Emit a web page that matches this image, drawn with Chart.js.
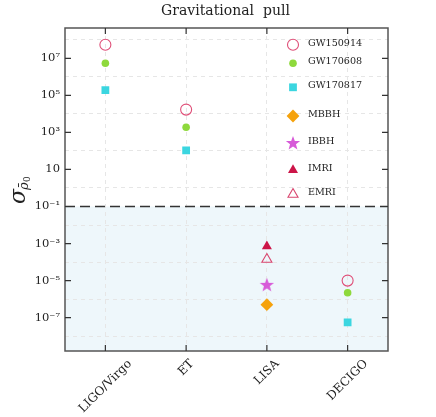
<!DOCTYPE html>
<html>
<head>
<meta charset="utf-8">
<script src="https://cdn.jsdelivr.net/npm/chart.js@4.4.0/dist/chart.umd.min.js"></script>
<style>
  body { margin: 0; background: #fff; }
  #wrap { width: 436px; height: 417px; position: relative; }
</style>
</head>
<body>
<div id="wrap"><canvas id="myChart"></canvas></div>
<script>
var detectors = ['LIGO/Virgo', 'ET', 'LISA', 'DECIGO'];
var gw150914 = [5.4e7, 1.7e4, null, 1.0e-5];
var gw170608 = [5.4e6, 1.9e3, null, 2.2e-6];
var gw170817 = [1.9e5, 1.07e2, null, 5.6e-8];
var mbbh = [null, null, 5.0e-7, null];
var ibbh = [null, null, 5.9e-6, null];
var imri = [null, null, 7.0e-4, null];
var emri = [null, null, 1.4e-4, null];
var threshold = 0.1;
var tickExps = [7, 5, 3, 1, -1, -3, -5, -7];
var supers = {'0':'⁰','1':'¹','2':'²','3':'³','4':'⁴','5':'⁵','6':'⁶','7':'⁷','8':'⁸','9':'⁹','-':'⁻'};

var serif = "'DejaVu Serif', serif";

// filled five point star for IBBH
var star = document.createElement('canvas');
star.width = 16; star.height = 16;
(function(){
    var c = star.getContext('2d');
    c.fillStyle = '#d75ad8';
    c.beginPath();
    for (var i = 0; i < 10; i++) {
        var r = (i % 2 == 0) ? 7.5 : 3.1;
        var a = -Math.PI/2 + i*Math.PI/5;
        var px = 8 + r*Math.cos(a), py = 8.4 + r*Math.sin(a);
        if (i == 0) c.moveTo(px, py); else c.lineTo(px, py);
    }
    c.closePath();
    c.fill();
})();

var series = [
    {label: 'GW150914', data: gw150914, pointStyle: 'circle', pointRadius: 5.5, borderColor: '#df4f78', backgroundColor: 'rgba(0,0,0,0)', borderWidth: 1.1, ly: 44.7},
    {label: 'GW170608', data: gw170608, pointStyle: 'circle', pointRadius: 3.8, borderColor: '#8ed93c', backgroundColor: '#8ed93c', borderWidth: 0, ly: 63.3},
    {label: 'GW170817', data: gw170817, pointStyle: 'rect', pointRadius: 5.5, borderColor: '#3bd6e0', backgroundColor: '#3bd6e0', borderWidth: 0, ly: 87.3},
    {label: 'MBBH', data: mbbh, pointStyle: 'rectRot', pointRadius: 6.4, borderColor: '#f5a20c', backgroundColor: '#f5a20c', borderWidth: 0, ly: 116},
    {label: 'IBBH', data: ibbh, pointStyle: star, pointRadius: 7, borderColor: '#d75ad8', backgroundColor: '#d75ad8', borderWidth: 0, ly: 143},
    {label: 'IMRI', data: imri, pointStyle: 'triangle', pointRadius: 5.8, borderColor: '#cc1548', backgroundColor: '#cc1548', borderWidth: 0, ly: 170},
    {label: 'EMRI', data: emri, pointStyle: 'triangle', pointRadius: 5.8, borderColor: '#d9466f', backgroundColor: 'rgba(0,0,0,0)', borderWidth: 1.1, ly: 194.3}
];

var datasets = series.map(function(s){
    return {
        label: s.label,
        data: s.data,
        showLine: false,
        pointStyle: s.pointStyle,
        pointRadius: s.pointRadius,
        pointHoverRadius: s.pointRadius,
        pointBorderColor: s.borderColor,
        pointBackgroundColor: s.backgroundColor,
        pointBorderWidth: s.borderWidth,
        borderColor: s.borderColor,
        backgroundColor: s.backgroundColor
    };
});

function expOf(v) { return Math.round(Math.log10(v)); }

var decor = {
    id: 'decor',
    beforeDraw: function(chart) {
        var ctx = chart.ctx, a = chart.chartArea, y = chart.scales.y;
        ctx.save();
        ctx.fillStyle = '#fff';
        ctx.fillRect(0, 0, chart.width, chart.height);
        var yt = y.getPixelForValue(threshold);
        ctx.fillStyle = '#eef7fb';
        ctx.fillRect(a.left, yt, a.right - a.left, a.bottom - yt);
        ctx.restore();
    },
    afterDatasetsDraw: function(chart) {
        var ctx = chart.ctx, a = chart.chartArea, x = chart.scales.x, y = chart.scales.y;
        ctx.save();
        // threshold line
        var yt = y.getPixelForValue(threshold);
        ctx.strokeStyle = '#333';
        ctx.lineWidth = 1.3;
        ctx.setLineDash([10, 5]);
        ctx.beginPath();
        ctx.moveTo(a.left, yt); ctx.lineTo(a.right, yt);
        ctx.stroke();
        ctx.setLineDash([]);
        // frame
        ctx.strokeStyle = '#555';
        ctx.lineWidth = 1.5;
        ctx.strokeRect(a.left, a.top, a.right - a.left, a.bottom - a.top);
        // inward ticks
        ctx.lineWidth = 1.2;
        ctx.strokeStyle = '#333';
        ctx.beginPath();
        tickExps.forEach(function(e){
            var py = y.getPixelForValue(Math.pow(10, e));
            ctx.moveTo(a.left, py); ctx.lineTo(a.left + 6, py);
            ctx.moveTo(a.right, py); ctx.lineTo(a.right - 6, py);
        });
        detectors.forEach(function(d, i){
            var px = x.getPixelForValue(i);
            ctx.moveTo(px, a.bottom); ctx.lineTo(px, a.bottom - 6);
            ctx.moveTo(px, a.top); ctx.lineTo(px, a.top + 6);
        });
        ctx.stroke();

        // x labels, rotated and centred on the tick
        ctx.fillStyle = '#222';
        ctx.font = '12px ' + serif;
        ctx.textAlign = 'center';
        ctx.textBaseline = 'middle';
        detectors.forEach(function(d, i){
            var px = x.getPixelForValue(i);
            var w = ctx.measureText(d).width, h = 11;
            var cy = a.bottom + 7 + (w + h) / (2 * Math.SQRT2);
            ctx.save();
            ctx.translate(px, cy);
            ctx.rotate(-Math.PI / 4);
            ctx.fillText(d, 0, 0);
            ctx.restore();
        });

        // legend
        ctx.font = '9.6px ' + serif;
        ctx.textAlign = 'left';
        series.forEach(function(s){
            ctx.fillStyle = s.backgroundColor;
            ctx.strokeStyle = s.borderColor;
            ctx.lineWidth = s.borderWidth;
            Chart.helpers.drawPoint(ctx, {pointStyle: s.pointStyle, radius: s.pointRadius, rotation: 0, borderWidth: s.borderWidth}, 293, s.ly);
            ctx.fillStyle = '#222';
            ctx.fillText(s.label, 308, s.ly - 1.5);
        });

        // title
        ctx.fillStyle = '#222';
        ctx.font = '14px ' + serif;
        ctx.textAlign = 'center';
        ctx.fillText('Gravitational  pull', (a.left + a.right) / 2 - 1, 11);

        // y axis title
        ctx.translate(25, 190);
        ctx.rotate(-Math.PI / 2);
        ctx.textAlign = 'left';
        ctx.textBaseline = 'alphabetic';
        ctx.font = 'italic 22px ' + serif;
        ctx.fillText('σ', -14, 0);
        ctx.font = 'italic 13px ' + serif;
        ctx.fillText('ρ̄', 0, 3);
        ctx.font = '9px ' + serif;
        ctx.fillText('0', 8, 5);
        ctx.restore();
    }
};

var ctx = document.getElementById('myChart');
var myChart = new Chart(ctx, {
    type: 'line',
    data: {
        labels: detectors,
        datasets: datasets
    },
    options: {
        responsive: true,
        maintainAspectRatio: false,
        animation: false,
        events: [],
        layout: { padding: { top: 28, right: 48, left: 0, bottom: 0 } },
        plugins: {
            legend: { display: false },
            title: { display: false },
            tooltip: { enabled: false }
        },
        scales: {
            x: {
                type: 'category',
                offset: true,
                grid: {
                    offset: false,
                    drawTicks: false,
                    color: '#e6e6e6',
                    lineWidth: 1
                },
                border: { display: false, dash: [4, 4] },
                ticks: { display: false },
                afterFit: function(scale) { scale.height = 66; }
            },
            y: {
                type: 'logarithmic',
                min: Math.pow(10, -8.8),
                max: Math.pow(10, 8.635),
                afterBuildTicks: function(scale) {
                    var t = [];
                    for (var e = -8; e <= 8; e++) t.push({value: Math.pow(10, e)});
                    scale.ticks = t;
                },
                grid: {
                    drawTicks: false,
                    lineWidth: 1,
                    color: function(c) {
                        if (!c.tick) return 'rgba(0,0,0,0)';
                        return expOf(c.tick.value) % 2 == 0 ? '#e6e6e6' : 'rgba(0,0,0,0)';
                    }
                },
                border: { display: false, dash: [4, 4] },
                ticks: {
                    padding: 5,
                    color: '#222',
                    font: { family: 'DejaVu Serif', size: 11.5 },
                    autoSkip: false,
                    callback: function(value) {
                        var e = expOf(value);
                        if (tickExps.indexOf(e) < 0) return '';
                        if (e == 1) return '10';
                        return '10' + String(e).split('').map(function(ch){ return supers[ch]; }).join('');
                    }
                },
                afterFit: function(scale) { scale.width = 65; }
            }
        }
    },
    plugins: [decor]
});
</script>
</body>
</html>
